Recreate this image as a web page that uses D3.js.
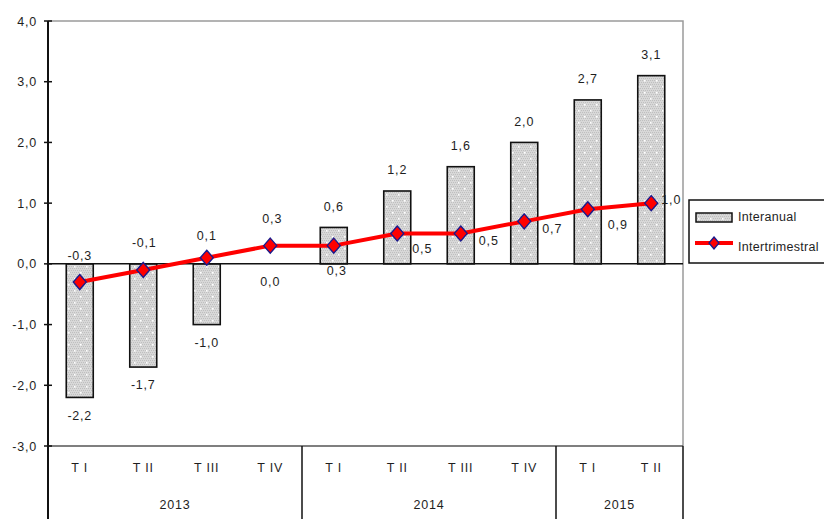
<!DOCTYPE html>
<html>
<head>
<meta charset="utf-8">
<script src="https://cdn.jsdelivr.net/npm/d3@7"></script>
<style>
  html, body { margin: 0; padding: 0; background: #fff; }
  svg { display: block; font-family: "Liberation Sans", Arial, sans-serif; }
  svg text { letter-spacing: 0.8px; }
  svg text.leg { letter-spacing: 0.3px; }
</style>
</head>
<body>
<svg id="chart" width="824" height="519"></svg>
<script>
// ---- data ----
const quarters = ["T I", "T II", "T III", "T IV", "T I", "T II", "T III", "T IV", "T I", "T II"];
const years = ["2013", "2014", "2015"];
const yearQuarterCounts = [4, 4, 2];
const interanual = [-2.2, -1.7, -1.0, 0.0, 0.6, 1.2, 1.6, 2.0, 2.7, 3.1];
const intertrimestral = [-0.3, -0.1, 0.1, 0.3, 0.3, 0.5, 0.5, 0.7, 0.9, 1.0];
const yTicks = [-3, -2, -1, 0, 1, 2, 3, 4];
const seriesNames = ["Interanual", "Intertrimestral"];

// ---- layout ----
const svg = d3.select("#chart");
const L = 48, R = 683, T = 21, B = 446;
const fmt = v => d3.format(".1f")(v).replace(".", ",").replace("−", "-");
const txtColor = "#1e1e1e";

const idx = d3.range(quarters.length);
const x = d3.scaleBand().domain(idx).range([L, R]).paddingInner(0.575).paddingOuter(0.2875);
const y = d3.scaleLinear().domain([-3, 4]).range([B, T]);
const cx = i => x(i) + x.bandwidth() / 2;

// pattern for bars
const defs = svg.append("defs");
const pat = defs.append("pattern").attr("id", "dots").attr("patternUnits", "userSpaceOnUse")
  .attr("width", 12).attr("height", 12);
pat.append("rect").attr("width", 12).attr("height", 12).attr("fill", "#d8d8d8");
pat.selectAll("rect.c").data(d3.cross(d3.range(6), d3.range(6))).enter().append("rect")
  .attr("x", d => d[0] * 2 + (d[1] % 2)).attr("y", d => d[1] * 2)
  .attr("width", 1).attr("height", 1).attr("fill", "#bfbfbf");
[[2, 2], [8, 8]].forEach(p => {
  pat.append("rect").attr("x", p[0]).attr("y", p[1]).attr("width", 1.6).attr("height", 1.6).attr("fill", "#ffffff");
});

// plot border (top and right, gray)
svg.append("path").attr("d", `M${L},${T}H${R}V${B}`).attr("fill", "none").attr("stroke", "#9a9a9a").attr("stroke-width", 1.5);

// bottom line of plot
svg.append("line").attr("x1", L).attr("x2", R).attr("y1", B).attr("y2", B).attr("stroke", "#555").attr("stroke-width", 1.5);

// bars
svg.append("g").selectAll("rect").data(interanual).enter().append("rect")
  .attr("x", (d, i) => x(i))
  .attr("y", d => Math.min(y(d), y(0)))
  .attr("width", x.bandwidth())
  .attr("height", d => Math.abs(y(d) - y(0)))
  .attr("fill", "url(#dots)")
  .attr("stroke", "#111").attr("stroke-width", 1.6);

// zero line
svg.append("line").attr("x1", L).attr("x2", R).attr("y1", y(0)).attr("y2", y(0)).attr("stroke", "#111").attr("stroke-width", 1.5);

// y axis
const yAxis = d3.axisLeft(y).tickValues(yTicks).tickFormat(fmt).tickSize(0).tickPadding(11);
const ga = svg.append("g").attr("transform", `translate(${L},0)`).call(yAxis);
ga.select(".domain").remove();
ga.selectAll("text").attr("fill", txtColor).style("font-size", "12.5px").style("font-family", "'Liberation Sans', Arial, sans-serif");
svg.append("g").selectAll("line").data(yTicks).enter().append("line")
  .attr("x1", L - 4).attr("x2", L + 4).attr("y1", d => y(d)).attr("y2", d => y(d))
  .attr("stroke", "#111").attr("stroke-width", 1.5);
svg.append("line").attr("x1", L).attr("x2", L).attr("y1", T).attr("y2", 519).attr("stroke", "#111").attr("stroke-width", 2);

// x category labels
svg.append("g").selectAll("text").data(quarters).enter().append("text")
  .attr("x", (d, i) => cx(i)).attr("y", 468).attr("dy", "0.35em")
  .attr("text-anchor", "middle").attr("fill", txtColor).style("font-size", "12.5px")
  .text(d => d);

// year groups and separators
let start = 0;
const yearG = svg.append("g");
years.forEach((yr, k) => {
  const n = yearQuarterCounts[k];
  const x0 = x(start) - x.step() * x.paddingInner() / 2;
  const x1 = x(start + n - 1) + x.bandwidth() + x.step() * x.paddingInner() / 2;
  yearG.append("text").attr("x", (x0 + x1) / 2).attr("y", 505).attr("dy", "0.35em")
    .attr("text-anchor", "middle").attr("fill", txtColor).style("font-size", "12.5px").text(yr);
  yearG.append("line").attr("x1", x1).attr("x2", x1).attr("y1", B).attr("y2", 519)
    .attr("stroke", "#111").attr("stroke-width", 1.5);
  start += n;
});

// line
const line = d3.line().x((d, i) => cx(i)).y(d => y(d));
svg.append("path").datum(intertrimestral).attr("d", line)
  .attr("fill", "none").attr("stroke", "#ff0000").attr("stroke-width", 4).attr("stroke-linejoin", "round");

const diamond = (px, py, w, h) => `M${px},${py - h}L${px + w},${py}L${px},${py + h}L${px - w},${py}Z`;
svg.append("g").selectAll("path").data(intertrimestral).enter().append("path")
  .attr("d", (d, i) => diamond(cx(i), y(d), 6.5, 7.5))
  .attr("fill", "#ff0000").attr("stroke", "#1a1a8c").attr("stroke-width", 1.4);

// bar labels
svg.append("g").selectAll("text").data(interanual).enter().append("text")
  .attr("x", (d, i) => cx(i))
  .attr("y", d => d > 0 ? y(d) - 21 : y(d) + 18)
  .attr("dy", "0.35em").attr("text-anchor", "middle").attr("fill", txtColor)
  .style("font-size", "12.5px").text(fmt);

// line labels (manual offsets like the original)
const labDx = [0, 1, 0, 2, 3, 25, 28, 28, 30, 20];
const labDy = [-26, -27, -22, -27, 25, 15, 7, 7, 15, -4];
svg.append("g").selectAll("text").data(intertrimestral).enter().append("text")
  .attr("x", (d, i) => cx(i) + labDx[i])
  .attr("y", (d, i) => y(d) + labDy[i])
  .attr("dy", "0.35em").attr("text-anchor", "middle").attr("fill", txtColor)
  .style("font-size", "12.5px").text(fmt);

// legend
const lg = svg.append("g");
lg.append("rect").attr("x", 689).attr("y", 200).attr("width", 160).attr("height", 63)
  .attr("fill", "#fff").attr("stroke", "#111").attr("stroke-width", 1.5);
lg.append("rect").attr("x", 696).attr("y", 213).attr("width", 36).attr("height", 9)
  .attr("fill", "url(#dots)").attr("stroke", "#111").attr("stroke-width", 1.5);
lg.append("line").attr("x1", 695).attr("x2", 733).attr("y1", 243).attr("y2", 243)
  .attr("stroke", "#ff0000").attr("stroke-width", 4);
lg.append("path").attr("d", diamond(714, 243, 5, 6)).attr("fill", "#ff0000").attr("stroke", "#1a1a8c").attr("stroke-width", 1.4);
lg.selectAll("text.leg").data(seriesNames).enter().append("text").attr("class", "leg")
  .attr("x", 738).attr("y", (d, i) => 217 + i * 30).attr("dy", "0.35em")
  .attr("fill", txtColor).style("font-size", "12.5px").text(d => d);
</script>
</body>
</html>
